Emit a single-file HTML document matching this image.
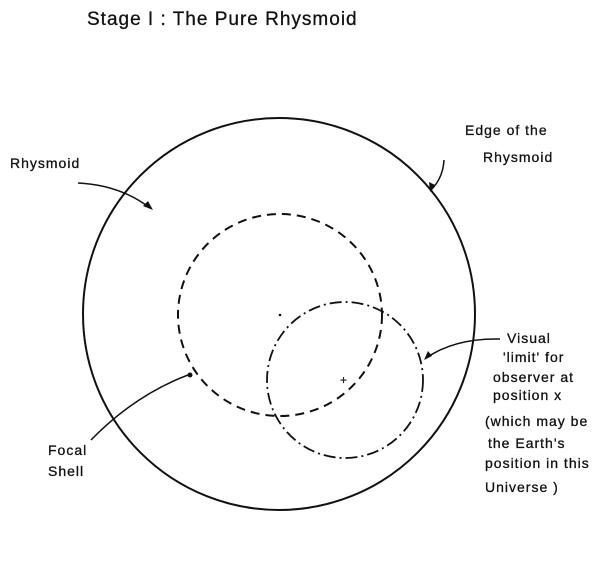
<!DOCTYPE html>
<html><head><meta charset="utf-8"><style>
html,body{margin:0;padding:0;background:#fff;}
svg{display:block}
text{font-family:"Liberation Sans",sans-serif;fill:#111;stroke:#111;stroke-width:0.3;letter-spacing:1px}
</style></head><body>
<svg width="602" height="585" viewBox="0 0 602 585" xmlns="http://www.w3.org/2000/svg">
<text x="87" y="25" font-size="19">Stage I  :  The Pure Rhysmoid</text>
<circle cx="279" cy="314" r="196" fill="none" stroke="#111" stroke-width="2"/>
<ellipse cx="280" cy="315" rx="102" ry="101" fill="none" stroke="#111" stroke-width="2" stroke-dasharray="9,6"/>
<ellipse cx="345" cy="380" rx="78" ry="78" fill="none" stroke="#111" stroke-width="1.8" stroke-dasharray="12,4,2,4"/>
<circle cx="280" cy="315" r="1.3" fill="#111"/>
<text x="340" y="384" font-size="12">+</text>
<g fill="none" stroke="#111" stroke-width="1.5">
<path d="M78 183 Q120 185 150 208"/>
<path d="M444 160 Q443 178 431 190"/>
<path d="M500 339 Q455 338 426 358"/>
<path d="M91 440 Q135 395 188 375"/>
</g>
<g fill="#111">
<polygon points="153,210 143,206 148,201"/>
<polygon points="430,192 429,182 435,185"/>
<polygon points="424,360 428,351 432,356"/>
<circle cx="190" cy="375" r="2.5"/>
</g>
<g font-size="14">
<text x="10" y="168">Rhysmoid</text>
<text x="465" y="135">Edge of the</text>
<text x="483" y="162">Rhysmoid</text>
<text x="48" y="455">Focal</text>
<text x="48" y="476">Shell</text>
<text x="507" y="343">Visual</text>
<text x="503" y="362">'limit' for</text>
<text x="493" y="382">observer at</text>
<text x="493" y="400">position x</text>
<text x="485" y="426">(which may be</text>
<text x="488" y="448">the Earth's</text>
<text x="485" y="468">position in this</text>
<text x="485" y="492">Universe )</text>
</g>
</svg>
</body></html>
